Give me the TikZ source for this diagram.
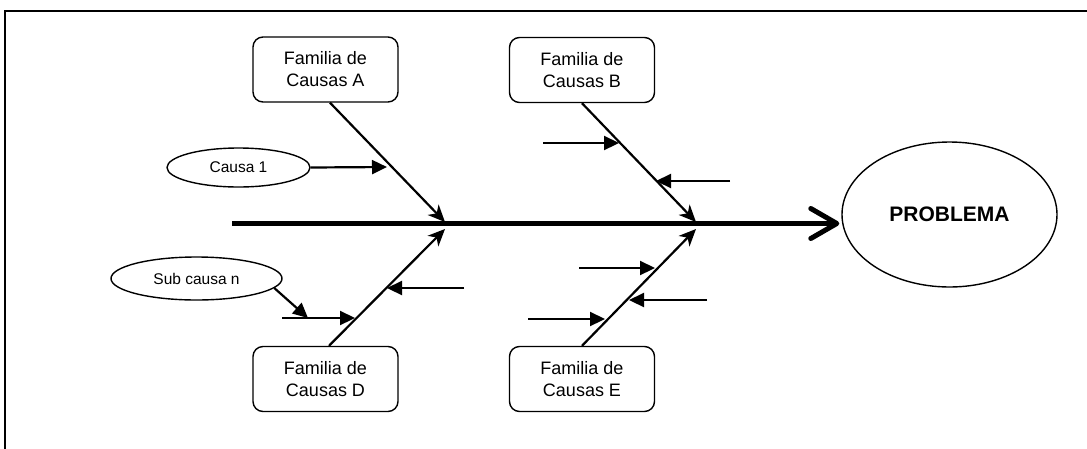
\documentclass[tikz,border=0pt]{standalone}
\usepackage{fontspec}
\setmainfont{Liberation Sans}
\usetikzlibrary{arrows.meta,shapes.geometric,calc}
\tikzset{
  fam/.style={draw, line width=1.4pt, rounded corners=10pt, minimum width=145pt, minimum height=65pt, inner sep=0pt, align=center, font=\fontsize{18}{22}\selectfont},
  cause/.style={draw, ellipse, line width=1.4pt, inner sep=0pt, font=\fontsize{15.5}{18}\selectfont},
  bone/.style={line width=2.2pt, -{Stealth[length=17pt,width=15pt,inset=5pt]}},
  sub/.style={line width=2.2pt, -{Triangle[length=15pt,width=14pt]}},
  spine/.style={line width=5pt, -{Straight Barb[length=26pt,width=30pt,line cap=round,line join=round]}},
}
\begin{document}
\begin{tikzpicture}[x=1pt,y=-1pt]
\useasboundingbox (0,0) rectangle (1087,448);
\fill[white] (0,0) rectangle (1087,448);
\draw[line width=2pt] (1090,11) -- (5,11) -- (5,450);

\node[fam] (A) at (325.5,69.5) {Familia de\\Causas A};
\node[fam] (B) at (582,70) {Familia de\\Causas B};
\node[fam] (D) at (325.5,379) {Familia de\\Causas D};
\node[fam] (E) at (582,379) {Familia de\\Causas E};

\node[draw, ellipse, line width=1.4pt, minimum width=215pt, minimum height=145pt, inner sep=0pt, font=\fontsize{21}{24}\selectfont\bfseries] (P) at (949.5,214.5) {PROBLEMA};
\node[cause, minimum width=143pt, minimum height=39pt] (C1) at (238.5,167.5) {Causa 1};
\node[cause, minimum width=171pt, minimum height=43pt] (SC) at (196.5,278.5) {Sub causa n};

\coordinate (S0) at (232,223.5);
\draw[spine] (S0) -- ([xshift=-2pt]S0 -| P.west);

\coordinate (tA) at (445,222);
\coordinate (tD) at (445,229);
\coordinate (tB) at (696,222);
\coordinate (tE) at (696,229);
\draw[bone] ([xshift=4.5pt]A.south) -- (tA);
\draw[bone] ([xshift=3.5pt]D.north) -- (tD);
\draw[bone] (B.south) -- (tB);
\draw[bone] (E.north) -- (tE);

% Causa 1
\coordinate (c1t) at (387,167);
\draw[sub] (C1.east) -- (c1t);
% D branch
\coordinate (d1s) at (282,318);
\coordinate (d1t) at (355,318);
\draw[sub] (d1s) -- (d1t);
\coordinate (d2s) at (464,288);
\coordinate (d2t) at (387,288);
\draw[sub] (d2s) -- (d2t);
\coordinate (sct) at (308,318);
\draw[sub] (SC.-7) -- (sct);
% B branch
\coordinate (b1s) at (543,143);
\coordinate (b1t) at (619,143);
\draw[sub] (b1s) -- (b1t);
\coordinate (b2s) at (730,181);
\coordinate (b2t) at (656,181);
\draw[sub] (b2s) -- (b2t);
% E branch
\coordinate (e1s) at (579,268);
\coordinate (e1t) at (655,268);
\draw[sub] (e1s) -- (e1t);
\coordinate (e2s) at (707,300);
\coordinate (e2t) at (629,300);
\draw[sub] (e2s) -- (e2t);
\coordinate (e3s) at (528,319);
\coordinate (e3t) at (605,319);
\draw[sub] (e3s) -- (e3t);
\end{tikzpicture}
\end{document}
